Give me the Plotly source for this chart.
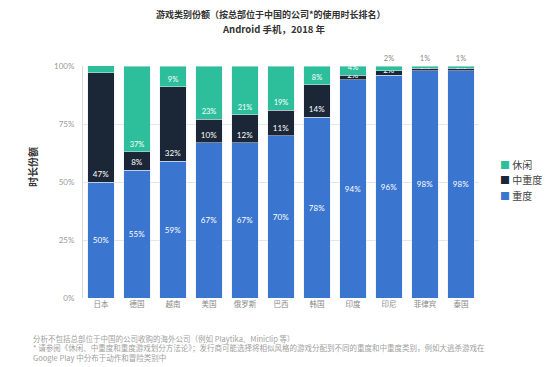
import plotly.graph_objects as go

categories = ["日本", "德国", "越南", "美国", "俄罗斯", "巴西", "韩国", "印度", "印尼", "菲律宾", "泰国"]
heavy = [50, 55, 59, 67, 67, 70, 78, 94, 96, 98, 98]      # 重度
midcore = [47, 8, 32, 10, 12, 11, 14, 2, 2, 1, 1]          # 中重度
casual = [4, 37, 9, 23, 21, 19, 8, 4, 2, 1, 1]             # 休闲
series_names = ["休闲", "中重度", "重度"]
y_ticks = [0, 25, 50, 75, 100]
y_tick_labels = ["0%", "25%", "50%", "75%", "100%"]

BLUE = "#3a76cf"
DARK = "#1b2737"
GREEN = "#2dbf9b"
FONT = "Lato, 'Noto Sans CJK SC', sans-serif"
CJK = "'Noto Sans CJK SC', sans-serif"

W, H = 550, 367
ML, MR, MT, MB = 83, 71, 66, 69

fig = go.Figure()
fig.add_bar(
    x=categories, y=heavy, name="重度", marker_color=BLUE,
    text=[f"{v}%" for v in heavy], textposition="inside", insidetextanchor="middle",
    textfont=dict(color="white", size=8, family=FONT), constraintext="none",
)
fig.add_bar(
    x=categories, y=midcore, name="中重度", marker_color=DARK,
    text=[f"{v}%" for v in midcore], textposition="inside", insidetextanchor="start",
    textfont=dict(color="white", size=8, family=FONT), constraintext="none",
)
fig.add_bar(
    x=categories, y=casual, name="休闲", marker_color=GREEN,
    text=[f"{v}%" for v in casual],
    textposition=["outside" if v <= 2 else "inside" for v in casual],
    insidetextanchor="start",
    textfont=dict(color=["#8a8a8a" if v <= 2 else "white" for v in casual], size=7.5, family=FONT),
    constraintext="none", cliponaxis=False,
)

fig.update_layout(
    barmode="stack",
    bargap=0.27,
    width=W, height=H,
    margin=dict(l=ML, r=MR, t=MT, b=MB),
    plot_bgcolor="white", paper_bgcolor="white",
    font=dict(family=FONT, color="#555"),
    showlegend=False,
    xaxis=dict(
        tickfont=dict(size=7.5, family=CJK, color="#888"),
        showgrid=False, ticks="", showline=False,
    ),
    yaxis=dict(
        range=[0, 100], tickvals=y_ticks, ticktext=y_tick_labels,
        tickfont=dict(size=8, color="#999"),
        showgrid=True, gridcolor="#e6e6e6", gridwidth=1,
        zeroline=False, showline=True, linecolor="#d8d8d8", linewidth=1,
        ticks="", ticklabelstandoff=6,
    ),
)


def px_to_paper(px, py):
    return (px - ML) / (W - ML - MR), (H - MB - py) / (H - MT - MB)


def add_text(text, px, py, size, color="#333", xanchor="center", angle=0, family=CJK):
    tx, ty = px_to_paper(px, py)
    fig.add_annotation(
        text=text, x=tx, y=ty, xref="paper", yref="paper", showarrow=False,
        xanchor=xanchor, yanchor="middle", textangle=angle,
        font=dict(size=size, family=family, color=color),
    )


add_text("<b>游戏类别份额（按总部位于中国的公司*的使用时长排名）</b>", 271, 15, 9)
add_text("<b>Android 手机，2018 年</b>", 274, 29, 9.5)
add_text("<b>时长份额</b>", 32, 167, 10, angle=-90)

# legend drawn as text with coloured squares
legend_colors = [GREEN, DARK, BLUE]
for i, (name, col) in enumerate(zip(series_names, legend_colors)):
    add_text(f'<span style="color:{col}">■</span> {name}', 498, 164 + i * 15.5, 10,
             color="#444", xanchor="left")

footnotes = [
    "分析不包括总部位于中国的公司收购的海外公司（例如 Playtika、Miniclip 等）",
    "* 请参阅《休闲、中重度和重度游戏划分方法论》；发行商可能选择将相似风格的游戏分配到不同的重度和中重度类别，例如大逃杀游戏在",
    "Google Play 中分布于动作和冒险类别中",
]
for i, line in enumerate(footnotes):
    add_text(line, 31, 338 + i * 9.5, 7.5, color="#a0a0a0", xanchor="left")

fig.write_html("out.html", config={"displayModeBar": False},
               post_script="document.body.style.margin='0';")
